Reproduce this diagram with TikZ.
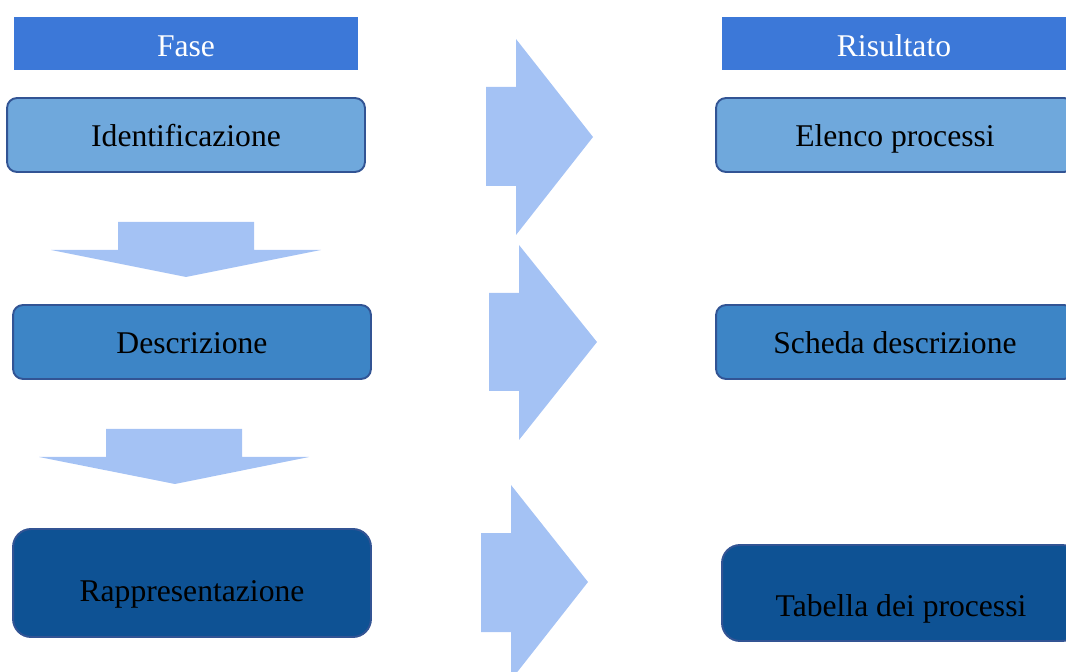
\documentclass[tikz,border=0pt]{standalone}
\usepackage{fontspec}
\setmainfont{Liberation Serif}
\usepackage{tikz}
\usepackage{xcolor}
\usetikzlibrary{positioning}
\definecolor{headblue}{RGB}{60, 120, 216}
\definecolor{lightbox}{RGB}{111, 168, 220}
\definecolor{midbox}{RGB}{61, 133, 198}
\definecolor{darkbox}{RGB}{14, 82, 148}
\definecolor{boxline}{RGB}{50, 84, 148}
\definecolor{arrowblue}{RGB}{164, 194, 244}

\tikzset{
  header/.style={fill=headblue, text=white, minimum width=6.88cm, minimum height=1.06cm,
    inner sep=0pt, text height=14.5pt, text depth=0pt},
  phasebox/.style={draw=boxline, line width=1.1pt, rounded corners=0.2cm,
    minimum width=7.16cm, minimum height=1.48cm, inner sep=0pt,
    text height=12.8pt, text depth=0pt},
  blockarrow/.style={fill=arrowblue}
}

\begin{document}
\begin{tikzpicture}[x=0.02cm, y=-0.02cm, every node/.style={align=center, font=\fontsize{18}{21.6}\selectfont}]
    \clip (0,0) rectangle (1066,672);

    % column headers
    \node[header] (fase) at (186, 43.5) {Fase};
    \node[header] (ris)  at (894, 43.5) {Risultato};

    % phases
    \node[phasebox, fill=lightbox] (ide) at (186, 135) {Identificazione};
    \node[phasebox, fill=midbox]   (des) at (192, 342) {Descrizione};
    \node[phasebox, fill=darkbox, minimum height=2.16cm, rounded corners=0.36cm,
          label={[yshift=-6.3pt]center:Rappresentazione}] (rap) at (192, 583) {};

    % results
    \node[phasebox, fill=lightbox] (ele) at (895, 135) {Elenco processi};
    \node[phasebox, fill=midbox]   (sch) at (895, 342) {Scheda descrizione};
    \node[phasebox, fill=darkbox, minimum height=1.92cm, rounded corners=0.36cm,
          label={[yshift=-9.3pt]center:Tabella dei processi}] (tab) at (901, 593) {};

    % down arrows
    \fill[blockarrow] (118,222) -- (254,222) -- (254,250) -- (321,250) -- (186,277)
                      -- (51,250) -- (118,250) -- cycle;
    \fill[blockarrow] (106,429) -- (242,429) -- (242,457) -- (309,457) -- (175,484)
                      -- (39,457) -- (106,457) -- cycle;

    % right arrows
    \fill[blockarrow] (486,87) -- (516,87) -- (516,39) -- (593,137) -- (516,235)
                      -- (516,186) -- (486,186) -- cycle;
    \fill[blockarrow] (489,293) -- (519,293) -- (519,245) -- (597,342) -- (519,440)
                      -- (519,391) -- (489,391) -- cycle;
    \fill[blockarrow] (481,533) -- (511,533) -- (511,485) -- (588,582) -- (511,680)
                      -- (511,632) -- (481,632) -- cycle;
\end{tikzpicture}
\end{document}
